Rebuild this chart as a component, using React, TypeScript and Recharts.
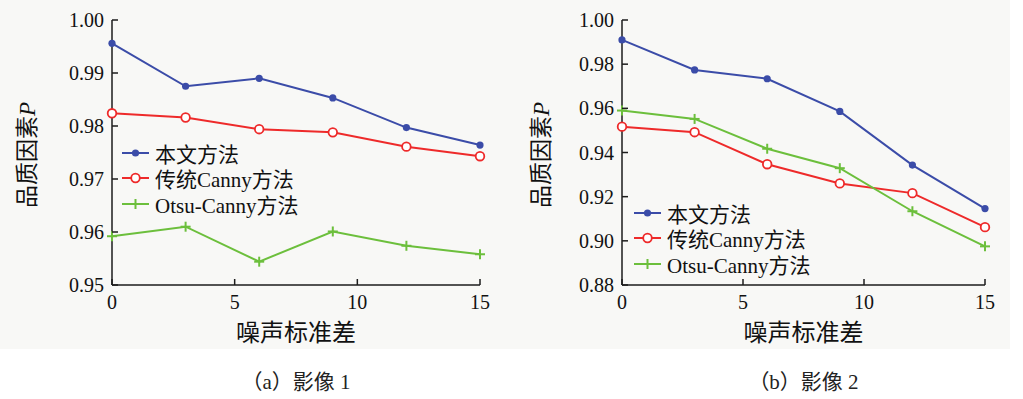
import React from "react";
import { LineChart, Line, XAxis, YAxis } from "recharts";

// 噪声标准差 (x) and the three methods
const noiseStd = [0, 3, 6, 9, 12, 15];
const xTicks = [0, 5, 10, 15];
const methodNames = ["本文方法", "传统Canny方法", "Otsu-Canny方法"];

// (a) 影像1
const img1Ours = [0.9956, 0.9875, 0.989, 0.9853, 0.9797, 0.9764];
const img1Canny = [0.9824, 0.9816, 0.9794, 0.9788, 0.9761, 0.9743];
const img1Otsu = [0.9592, 0.961, 0.9544, 0.9601, 0.9574, 0.9558];
const img1Ticks = [0.95, 0.96, 0.97, 0.98, 0.99, 1.0];

// (b) 影像2
const img2Ours = [0.991, 0.9774, 0.9734, 0.9586, 0.9343, 0.9146];
const img2Canny = [0.9517, 0.9492, 0.9347, 0.926, 0.9216, 0.9062];
const img2Otsu = [0.959, 0.9552, 0.9417, 0.9329, 0.9134, 0.8975];
const img2Ticks = [0.88, 0.9, 0.92, 0.94, 0.96, 0.98, 1.0];

const colors = ["#3b4ca8", "#ee2a2a", "#6cbf3c"];
const markers = ["dot", "ring", "plus"];
const axisColor = "#1c1c1c";
const serif = '"Liberation Serif", "Times New Roman", "Noto Sans CJK SC", serif';

const Marker = ({ kind, cx, cy, color }: any) => {
  if (cx == null || cy == null) return null;
  if (kind === "dot") return <circle cx={cx} cy={cy} r={3.6} fill={color} />;
  if (kind === "ring")
    return <circle cx={cx} cy={cy} r={4.3} fill="#fff" stroke={color} strokeWidth={1.8} />;
  return (
    <g stroke={color} strokeWidth={2}>
      <line x1={cx - 5} x2={cx + 5} y1={cy} y2={cy} />
      <line x1={cx} x2={cx} y1={cy - 5} y2={cy + 5} />
    </g>
  );
};

const YTick = (props: any) => {
  const { x, y, payload } = props;
  return (
    <g>
      <line x1={x + 8} x2={x + 14} y1={y} y2={y} stroke={axisColor} strokeWidth={1.5} />
      <text x={x} y={y} textAnchor="end" dominantBaseline="central" fontSize={20} fill="#111" style={{ fontFamily: serif }}>
        {payload.value.toFixed(2)}
      </text>
    </g>
  );
};

const XTick = (props: any) => {
  const { x, y, payload } = props;
  return (
    <g>
      <line x1={x} x2={x} y1={y - 10} y2={y - 16} stroke={axisColor} strokeWidth={1.5} />
      <text x={x} y={y} dy="0.71em" textAnchor="middle" fontSize={20} fill="#111" style={{ fontFamily: serif }}>
        {payload.value}
      </text>
    </g>
  );
};

function Panel({ left, ours, canny, otsu, yTicks, marginRight, legendTop, legendLeft, yLabelX, caption }: any) {
  const rows = noiseStd.map((x, i) => ({ x, s0: ours[i], s1: canny[i], s2: otsu[i] }));
  const plotL = 112;
  const plotR = 500 - marginRight;
  const mid = (plotL + plotR) / 2;
  return (
    <div style={{ position: "absolute", left, top: 0, width: 500, height: 399 }}>
      <LineChart width={500} height={345} data={rows} margin={{ top: 20, right: marginRight, bottom: 30, left: 52 }}>
        <XAxis
          dataKey="x"
          type="number"
          domain={[0, 15]}
          ticks={xTicks}
          height={30}
          tickSize={0}
          tickMargin={10}
          tick={<XTick />}
          axisLine={{ stroke: axisColor, strokeWidth: 1.5 }}
          tickLine={false}
        />
        <YAxis
          type="number"
          domain={[yTicks[0], yTicks[yTicks.length - 1]]}
          ticks={yTicks}
          width={60}
          tickSize={0}
          tickMargin={8}
          tick={<YTick />}
          axisLine={{ stroke: axisColor, strokeWidth: 1.5 }}
          tickLine={false}
        />
        {["s0", "s1", "s2"].map((k, i) => (
          <Line
            key={k}
            dataKey={k}
            name={methodNames[i]}
            type="linear"
            stroke={colors[i]}
            strokeWidth={2}
            isAnimationActive={false}
            dot={(p: any) => <Marker key={`${k}-${p.index}`} kind={markers[i]} cx={p.cx} cy={p.cy} color={colors[i]} />}
            activeDot={false}
          />
        ))}
      </LineChart>

      <div
        style={{
          position: "absolute",
          left: yLabelX - 80,
          top: 155 - 15,
          width: 160,
          height: 30,
          lineHeight: "30px",
          textAlign: "center",
          transform: "rotate(-90deg)",
          fontSize: 23,
          fontFamily: serif,
          color: "#111",
          whiteSpace: "nowrap",
        }}
      >
        品质因素<i>P</i>
      </div>

      <div
        style={{
          position: "absolute",
          left: mid - 100,
          top: 318,
          width: 200,
          textAlign: "center",
          fontSize: 24,
          lineHeight: "30px",
          fontFamily: serif,
          color: "#111",
        }}
      >
        噪声标准差
      </div>

      <div style={{ position: "absolute", left: legendLeft, top: legendTop }}>
        {methodNames.map((name, i) => (
          <div key={name} style={{ display: "flex", alignItems: "center", height: 25.5 }}>
            <svg width={30} height={14} style={{ marginRight: 4 }}>
              <line x1={1} x2={28} y1={7} y2={7} stroke={colors[i]} strokeWidth={2} />
              <Marker kind={markers[i]} cx={14.5} cy={7} color={colors[i]} />
            </svg>
            <span style={{ fontSize: 21, fontFamily: serif, color: "#111", whiteSpace: "nowrap" }}>{name}</span>
          </div>
        ))}
      </div>

      <div
        style={{
          position: "absolute",
          left: mid - 100,
          top: 367,
          width: 200,
          textAlign: "center",
          fontSize: 21,
          lineHeight: "30px",
          fontFamily: serif,
          color: "#222",
        }}
      >
        {caption}
      </div>
    </div>
  );
}

export default function App() {
  return (
    <div style={{ position: "absolute", left: 0, top: 0, width: 1023, height: 399, background: "#fff", overflow: "hidden" }}>
      <div style={{ position: "absolute", left: 0, top: 0, width: 1010, height: 349, background: "#f8f8f6" }} />
      <Panel
        left={0}
        ours={img1Ours}
        canny={img1Canny}
        otsu={img1Otsu}
        yTicks={img1Ticks}
        marginRight={20}
        legendLeft={121}
        legendTop={140}
        yLabelX={28}
        caption="（a）影像 1"
      />
      <Panel
        left={510}
        ours={img2Ours}
        canny={img2Canny}
        otsu={img2Otsu}
        yTicks={img2Ticks}
        marginRight={25}
        legendLeft={123}
        legendTop={200}
        yLabelX={32}
        caption="（b）影像 2"
      />
    </div>
  );
}
